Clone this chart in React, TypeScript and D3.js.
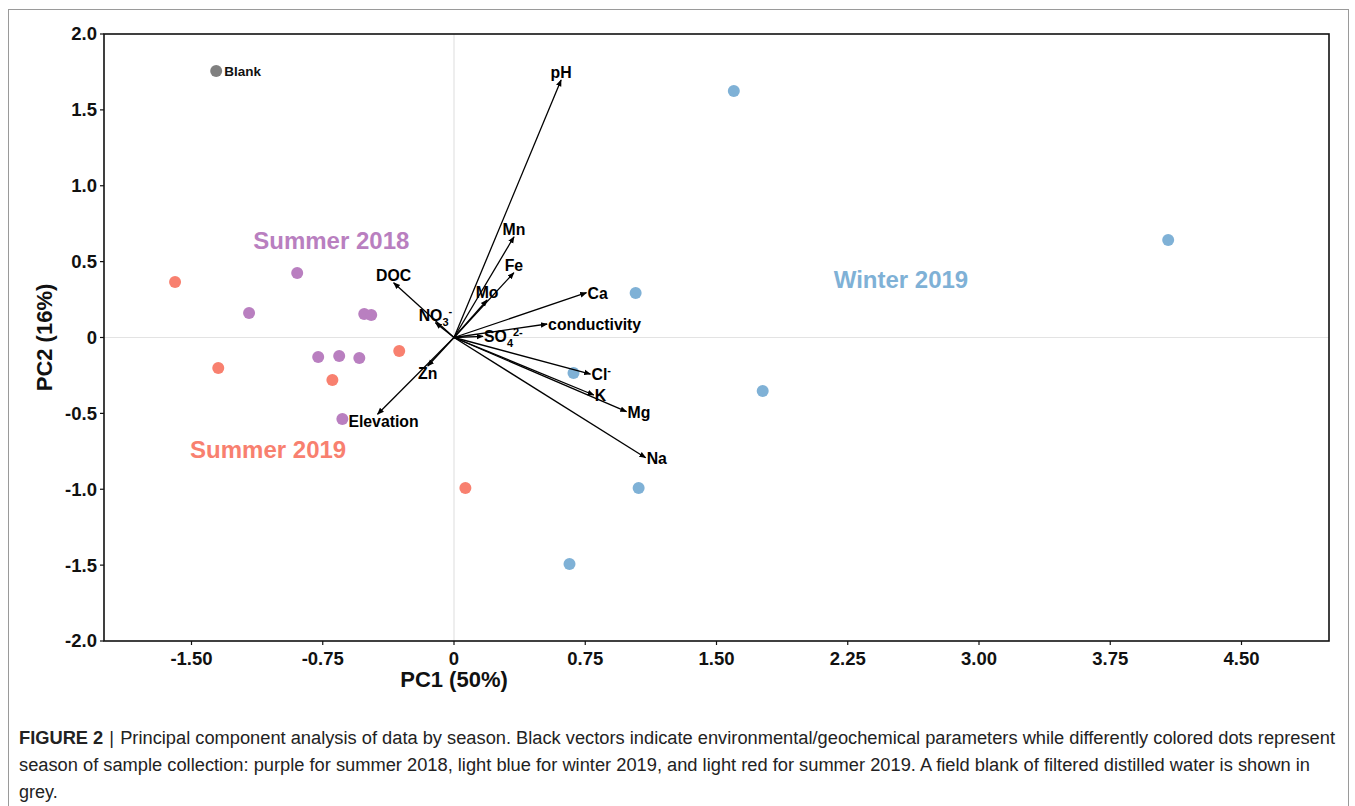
import React from 'react';
import * as d3 from 'd3';

// sample scores (PC1, PC2)
const summer2018 = [
  [-0.896, 0.425], [-1.171, 0.161], [-0.513, 0.155], [-0.473, 0.148],
  [-0.776, -0.128], [-0.656, -0.122], [-0.541, -0.135], [-0.638, -0.537],
];
const winter2019 = [
  [1.599, 1.624], [4.081, 0.642], [1.038, 0.293], [0.683, -0.234],
  [1.764, -0.353], [1.055, -0.992], [0.660, -1.493],
];
const summer2019 = [
  [-1.594, 0.366], [-1.347, -0.201], [-0.695, -0.28], [-0.313, -0.089], [0.065, -0.992],
];
const blank = [[-1.359, 1.756]];

// loadings (vector tips)
const vectorNames = ['pH', 'Mn', 'Fe', 'Mo', 'Ca', 'conductivity', 'SO4', 'Cl', 'K', 'Mg', 'Na', 'DOC', 'NO3', 'Zn', 'Elevation'];
const vectorX = [0.612, 0.343, 0.342, 0.189, 0.757, 0.532, 0.166, 0.78, 0.799, 0.986, 1.095, -0.345, -0.106, -0.15, -0.437];
const vectorY = [1.697, 0.664, 0.427, 0.247, 0.295, 0.089, 0.008, -0.241, -0.379, -0.489, -0.792, 0.361, 0.098, -0.188, -0.506];

const groupLabels = ['Summer 2018', 'Winter 2019', 'Summer 2019'];
const groupLabelX = [-0.701, 2.554, -1.062];
const groupLabelY = [0.636, 0.379, -0.741];

const xTicks = [-1.5, -0.75, 0, 0.75, 1.5, 2.25, 3.0, 3.75, 4.5];
const yTicks = [2.0, 1.5, 1.0, 0.5, 0, -0.5, -1.0, -1.5, -2.0];

const colors = { s18: '#b97fc0', w19: '#7fb1d6', s19: '#f8806f', blank: '#808080' };

const captionLines = [
  'Principal component analysis of data by season. Black vectors indicate environmental/geochemical parameters while differently colored dots represent',
  'season of sample collection: purple for summer 2018, light blue for winter 2019, and light red for summer 2019. A field blank of filtered distilled water is shown in',
  'grey.',
];

const font = '"Liberation Sans", Arial, sans-serif';

const VecLabel = ({ name }: { name: string }) => {
  if (name === 'SO4') return (<>SO<tspan fontSize="11" dy="5">4</tspan><tspan fontSize="11" dy="-11">2-</tspan></>);
  if (name === 'NO3') return (<>NO<tspan fontSize="11" dy="5">3</tspan><tspan fontSize="11" dy="-11">-</tspan></>);
  if (name === 'Cl') return (<>Cl<tspan fontSize="11" dy="-6">-</tspan></>);
  return <>{name}</>;
};

export default function App() {
  const W = 1355, H = 806;
  const m = { left: 104, right: 1329, top: 34, bottom: 641 };
  const x = d3.scaleLinear().domain([-2, 5]).range([m.left, m.right]);
  const y = d3.scaleLinear().domain([-2, 2]).range([m.bottom, m.top]);
  const fmtX = (v: number) => (v === 0 ? '0' : v.toFixed(2));
  const fmtY = (v: number) => (v === 0 ? '0' : v.toFixed(1));

  const groups = [
    { pts: summer2018, c: colors.s18 },
    { pts: winter2019, c: colors.w19 },
    { pts: summer2019, c: colors.s19 },
    { pts: blank, c: colors.blank },
  ];
  const gColors = [colors.s18, colors.w19, colors.s19];

  return (
    <svg width={W} height={H} style={{ position: 'absolute', left: 0, top: 0 }} fontFamily={font}>
      <defs>
        <marker id="arr" viewBox="0 0 10 10" refX="9" refY="5" markerWidth="7" markerHeight="7" orient="auto" markerUnits="userSpaceOnUse">
          <path d="M0,1 L10,5 L0,9 z" fill="#000" />
        </marker>
      </defs>
      <rect x={0} y={0} width={W} height={H} fill="#fff" />
      <rect x={8.5} y={9.5} width={1340} height={830} fill="none" stroke="#9a9a9a" strokeWidth={1} />

      {/* zero lines */}
      <line x1={x(0)} x2={x(0)} y1={m.top} y2={m.bottom} stroke="#e3e3e3" strokeWidth={1.2} />
      <line x1={m.left} x2={m.right} y1={y(0)} y2={y(0)} stroke="#e3e3e3" strokeWidth={1.2} />

      {/* panel border */}
      <rect x={m.left} y={m.top} width={m.right - m.left} height={m.bottom - m.top} fill="none" stroke="#111" strokeWidth={1.6} />

      {/* y axis */}
      {yTicks.map(t => (
        <g key={'y' + t}>
          <line x1={m.left - 4} x2={m.left} y1={y(t)} y2={y(t)} stroke="#111" strokeWidth={1.2} />
          <text x={m.left - 7} y={y(t)} dy="0.35em" textAnchor="end" fontSize={18.5} fontWeight="bold" fill="#111">{fmtY(t)}</text>
        </g>
      ))}
      {/* x axis */}
      {xTicks.map(t => (
        <g key={'x' + t}>
          <line x1={x(t)} x2={x(t)} y1={m.bottom} y2={m.bottom + 4} stroke="#111" strokeWidth={1.2} />
          <text x={x(t)} y={m.bottom + 24} textAnchor="middle" fontSize={18.5} fontWeight="bold" fill="#111">{fmtX(t)}</text>
        </g>
      ))}
      <text x={x(0)} y={687} textAnchor="middle" fontSize={22} fontWeight="bold" fill="#111">PC1 (50%)</text>
      <text transform={`translate(52, ${y(0)}) rotate(-90)`} textAnchor="middle" fontSize={22} fontWeight="bold" fill="#111">PC2 (16%)</text>

      {/* points */}
      {groups.map((g, gi) => g.pts.map((p, i) => (
        <circle key={gi + '-' + i} cx={x(p[0])} cy={y(p[1])} r={6} fill={g.c} />
      )))}
      <text x={x(blank[0][0]) + 8} y={y(blank[0][1])} dy="0.35em" fontSize={13.5} fontWeight="bold" fill="#111">Blank</text>

      {/* vectors */}
      {vectorNames.map((n, i) => {
        const vx = vectorX[i], vy = vectorY[i];
        const right = vx > 0 && Math.abs(vy) < vx;
        // labels of the longer lower-left vectors sit a bit to the right of the tip
        const lx = right ? x(vx) + 1 : x(vx) + (vy < -0.4 ? 6 : 0);
        const ly = right ? y(vy) + 6 : (vy > 0 ? y(vy) - 2 : y(vy) + 13);
        return (
          <g key={n}>
            <line x1={x(0)} y1={y(0)} x2={x(vx)} y2={y(vy)} stroke="#000" strokeWidth={1.3} markerEnd="url(#arr)" />
            <text x={lx} y={ly} textAnchor={right ? 'start' : 'middle'} fontSize={15.8} fontWeight="bold" fill="#000">
              <VecLabel name={n} />
            </text>
          </g>
        );
      })}

      {/* group labels */}
      {groupLabels.map((l, i) => (
        <text key={l} x={x(groupLabelX[i])} y={y(groupLabelY[i])} dy="0.35em" textAnchor="middle" fontSize={24} fontWeight="bold" fill={gColors[i]}>{l}</text>
      ))}

      {/* caption */}
      <text x={19} y={744} fontSize={18} fill="#222" textLength={1316} lengthAdjust="spacingAndGlyphs">
        <tspan fontWeight="bold">FIGURE 2</tspan>
        <tspan dx={6}>|</tspan>
        <tspan dx={6}>{captionLines[0]}</tspan>
      </text>
      <text x={19} y={771} fontSize={18} fill="#222" textLength={1291} lengthAdjust="spacingAndGlyphs">{captionLines[1]}</text>
      <text x={19} y={798} fontSize={18} fill="#222">{captionLines[2]}</text>
    </svg>
  );
}
